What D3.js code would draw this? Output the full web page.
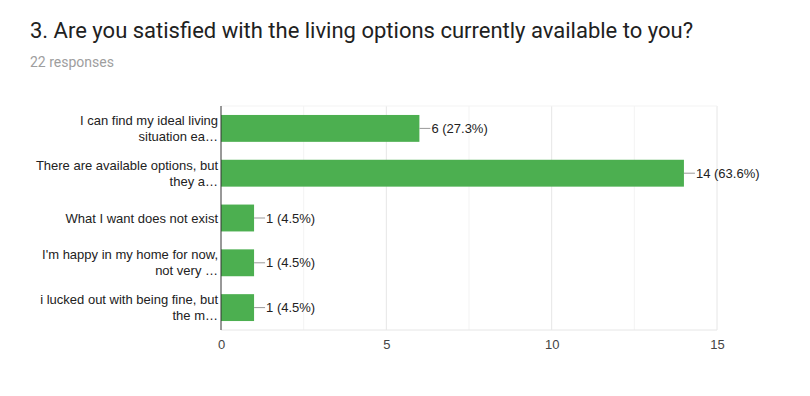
<!DOCTYPE html>
<html>
<head>
<meta charset="utf-8">
<script src="https://cdn.jsdelivr.net/npm/d3@7"></script>
<style>
  body { margin: 0; background: #fff; }
  svg { display: block; }
</style>
</head>
<body>
<svg id="chart" width="810" height="396"></svg>
<script>
// data
var titleText = "3. Are you satisfied with the living options currently available to you?";
var subText = "22 responses";
var categories = [
  ["I can find my ideal living", "situation ea\u2026"],
  ["There are available options, but", "they a\u2026"],
  ["What I want does not exist"],
  ["I'm happy in my home for now,", "not very \u2026"],
  ["i lucked out with being fine, but", "the m\u2026"]
];
var counts = [6, 14, 1, 1, 1];
var percents = ["27.3%", "63.6%", "4.5%", "4.5%", "4.5%"];
var xTicks = [0, 5, 10, 15];
var minorTicks = [2.5, 7.5, 12.5];

var svg = d3.select("#chart");
var margin = {top: 106, right: 93, bottom: 66, left: 221},
    width = 810 - margin.left - margin.right,
    height = 396 - margin.top - margin.bottom;

svg.append("text")
  .attr("x", 30).attr("y", 38)
  .style("font-family", "Roboto, sans-serif")
  .style("font-size", "22px")
  .style("fill", "#212121")
  .text(titleText);

svg.append("text")
  .attr("x", 30).attr("y", 67)
  .style("font-family", "Roboto, sans-serif")
  .style("font-size", "14px")
  .style("fill", "#9e9e9e")
  .text(subText);

var g = svg.append("g")
  .attr("transform", "translate(" + margin.left + "," + margin.top + ")");

var x = d3.scaleLinear().domain([0, 15]).range([0, width]);
var y = d3.scaleBand()
  .domain(d3.range(counts.length))
  .range([0, height])
  .paddingInner(0.4)
  .paddingOuter(0.2);

// gridlines
g.selectAll("line.minor").data(minorTicks).enter().append("line")
  .attr("class", "minor")
  .attr("x1", function(d){return x(d);}).attr("x2", function(d){return x(d);})
  .attr("y1", 0).attr("y2", height)
  .style("stroke", "#f3f3f3");
g.selectAll("line.major").data(xTicks.slice(1)).enter().append("line")
  .attr("class", "major")
  .attr("x1", function(d){return x(d);}).attr("x2", function(d){return x(d);})
  .attr("y1", 0).attr("y2", height)
  .style("stroke", "#e6e6e6");
g.append("line")
  .attr("x1", 0).attr("x2", width).attr("y1", 0).attr("y2", 0)
  .style("stroke", "#f3f3f3");
g.append("line")
  .attr("x1", 0).attr("x2", width).attr("y1", height).attr("y2", height)
  .style("stroke", "#e6e6e6");

// bars
g.selectAll("rect.bar").data(counts).enter().append("rect")
  .attr("class", "bar")
  .attr("x", x(0))
  .attr("y", function(d, i){return y(i);})
  .attr("width", function(d){return x(d) - x(0);})
  .attr("height", y.bandwidth())
  .style("fill", "#4caf50");

// zero line
g.append("line")
  .attr("x1", x(0)).attr("x2", x(0)).attr("y1", 0).attr("y2", height)
  .style("stroke", "#333");

// value callouts
var callout = g.selectAll("g.callout").data(counts).enter().append("g")
  .attr("class", "callout")
  .attr("transform", function(d, i){return "translate(" + x(d) + "," + (y(i) + y.bandwidth() / 2) + ")";});
callout.append("line")
  .attr("x1", 0).attr("x2", 11).attr("y1", 0).attr("y2", 0)
  .style("stroke", "#999");
callout.append("text")
  .attr("x", 12).attr("dy", "0.35em")
  .style("font-family", "Arial, 'Liberation Sans', sans-serif")
  .style("font-size", "13px")
  .style("fill", "#222")
  .text(function(d, i){return d + " (" + percents[i] + ")";});

// category labels
var lineH = 16;
g.selectAll("text.cat").data(categories).enter().append("text")
  .attr("class", "cat")
  .attr("text-anchor", "end")
  .style("font-family", "Arial, 'Liberation Sans', sans-serif")
  .style("font-size", "13px")
  .style("fill", "#222")
  .each(function(lines, i) {
    var t = d3.select(this);
    var cy = y(i) + y.bandwidth() / 2;
    var start = cy - (lines.length - 1) * lineH / 2;
    lines.forEach(function(l, k) {
      t.append("tspan").attr("x", -3).attr("y", start + k * lineH).attr("dy", "0.35em").text(l);
    });
  });

// x axis tick labels
var xAxis = d3.axisBottom(x).tickValues(xTicks).tickSize(0).tickPadding(10);
var ax = g.append("g").attr("transform", "translate(0," + height + ")").call(xAxis);
ax.select(".domain").remove();
ax.selectAll("text")
  .style("font-family", "Arial, 'Liberation Sans', sans-serif")
  .style("font-size", "13px")
  .style("fill", "#444");
</script>
</body>
</html>
